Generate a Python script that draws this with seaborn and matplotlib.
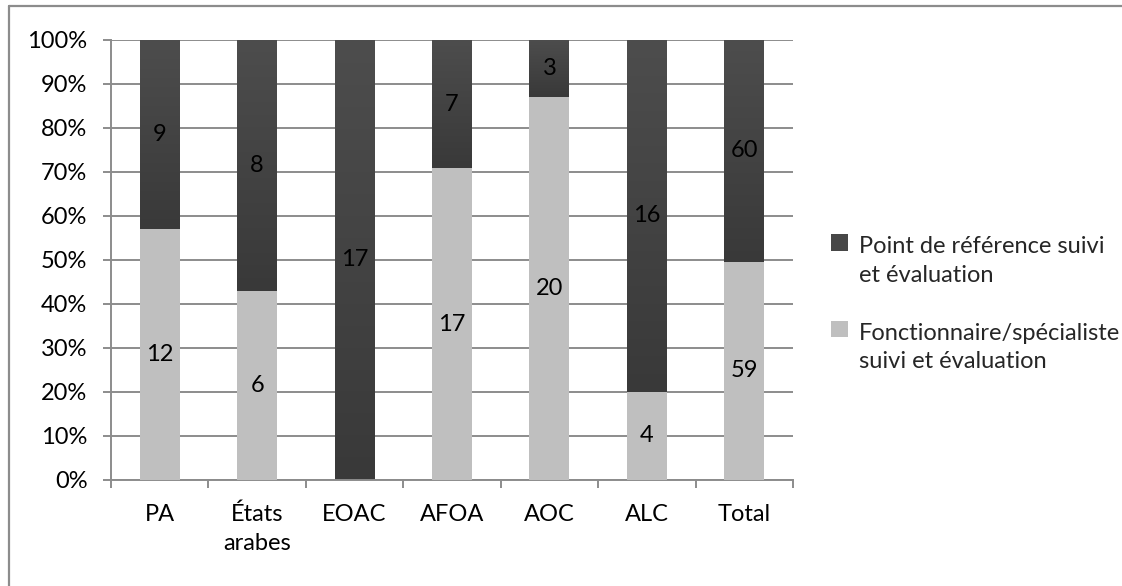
import numpy as np
import pandas as pd
import matplotlib
matplotlib.use("Agg")
import matplotlib.pyplot as plt
from matplotlib.lines import Line2D
from matplotlib.patches import Patch, Rectangle
from matplotlib.legend_handler import HandlerPatch
import seaborn as sns

# Staff responsible for monitoring & evaluation, by region (counts)
regions = ["PA", "États\narabes", "EOAC", "AFOA", "AOC", "ALC", "Total"]
focal_point = [9, 8, 17, 7, 3, 16, 60]      # Point de référence suivi et évaluation
specialist = [12, 6, 0, 17, 20, 4, 59]      # Fonctionnaire/spécialiste suivi et évaluation
series_labels = ["Point de référence suivi\net évaluation",
                 "Fonctionnaire/spécialiste\nsuivi et évaluation"]
y_ticks = [0, 10, 20, 30, 40, 50, 60, 70, 80, 90, 100]

DARK = "#474747"
DARK_TOP = "#4d4d4d"
DARK_BOTTOM = "#393939"
LIGHT = "#bfbfbf"
GRID = "#8c8c8c"
FONT = 17

sns.set_style("white")
plt.rcParams["font.family"] = ["Lato", "DejaVu Sans"]

df = pd.DataFrame({"region": regions, "focal": focal_point, "spec": specialist})
df["total"] = df["focal"] + df["spec"]
df["spec_pct"] = 100 * df["spec"] / df["total"]
df["total_pct"] = 100 * df["total"] / df["total"]

fig = plt.figure(figsize=(11.22, 5.86), dpi=100)
ax = fig.add_axes([111 / 1122, 1 - 480 / 586, (793 - 111) / 1122, 440 / 586])

# full-height dark bars, then the light share drawn over their lower part
sns.barplot(data=df, x="region", y="total_pct", color=DARK, width=0.41,
            saturation=1, ax=ax, zorder=2, linewidth=0, edgecolor="none")
dark_bars = list(ax.patches)
sns.barplot(data=df, x="region", y="spec_pct", color=LIGHT, width=0.41,
            saturation=1, ax=ax, zorder=3, linewidth=0, edgecolor="none")

# soft vertical shading on the dark segments
grad = np.linspace(0, 1, 256).reshape(-1, 1)
cmap = matplotlib.colors.LinearSegmentedColormap.from_list("shade", [DARK_BOTTOM, DARK_TOP])
for bar, lo in zip(dark_bars, df["spec_pct"]):
    x0 = bar.get_x()
    x1 = x0 + bar.get_width()
    ax.imshow(grad, extent=[x0, x1, lo, bar.get_height()], origin="lower",
              cmap=cmap, aspect="auto", zorder=2.5, interpolation="bicubic")

# value labels centred in each segment
for i, row in df.iterrows():
    if row["focal"] > 0:
        ax.text(i, (row["spec_pct"] + 100) / 2, f"{row['focal']}", ha="center",
                va="center", fontsize=FONT, color="black", zorder=5)
    if row["spec"] > 0:
        ax.text(i, row["spec_pct"] / 2, f"{row['spec']}", ha="center",
                va="center", fontsize=FONT, color="black", zorder=5)

ax.set_xlim(-0.5, len(regions) - 0.5)
ax.set_ylim(0, 100)
ax.set_yticks(y_ticks)
ax.set_yticklabels([f"{t}%" for t in y_ticks])
ax.set_xlabel("")
ax.set_ylabel("")

ax.yaxis.grid(True, color=GRID, linewidth=1.4)
ax.xaxis.grid(False)
ax.set_axisbelow(True)
for side in ("top", "right"):
    ax.spines[side].set_visible(False)
for side in ("left", "bottom"):
    ax.spines[side].set_color(GRID)
    ax.spines[side].set_linewidth(1.4)

ax.tick_params(axis="y", length=6, width=1.4, color=GRID, pad=11,
               labelsize=FONT, labelcolor="black", left=True)
ax.tick_params(axis="x", which="major", length=0, pad=17,
               labelsize=FONT, labelcolor="black")
ax.set_xticks(np.arange(-0.5, len(regions), 1), minor=True)
ax.tick_params(axis="x", which="minor", length=6, width=1.4, color=GRID,
               bottom=True)
for lab in ax.get_xticklabels():
    lab.set_linespacing(1.45)


def first_line_square(legend, orig_handle, xdescent, ydescent, width, height, fontsize):
    # square key level with the first line of a two-line label
    s = 0.7 * fontsize
    return Rectangle((-xdescent, 0.8 * fontsize), s, s)


handles = [Patch(facecolor=DARK, edgecolor="none"),
           Patch(facecolor=LIGHT, edgecolor="none")]
leg = fig.legend(handles, series_labels, loc="upper left",
                 bbox_to_anchor=(822 / 1122, 1 - 227 / 586), frameon=False,
                 fontsize=FONT, handlelength=0.7, handleheight=0.7,
                 handletextpad=0.45, labelspacing=1.55, borderaxespad=0,
                 handler_map={Patch: HandlerPatch(patch_func=first_line_square)})
for t in leg.get_texts():
    t.set_linespacing(1.45)

# outer chart frame (top and left edges visible)
fig.add_artist(Line2D([9 / 1122, 9 / 1122], [0, 1 - 6 / 586],
                      transform=fig.transFigure, color=GRID, linewidth=1.6))
fig.add_artist(Line2D([9 / 1122, 1], [1 - 6 / 586, 1 - 6 / 586],
                      transform=fig.transFigure, color=GRID, linewidth=1.6))

fig.savefig("out.png", dpi=100, facecolor="white")
